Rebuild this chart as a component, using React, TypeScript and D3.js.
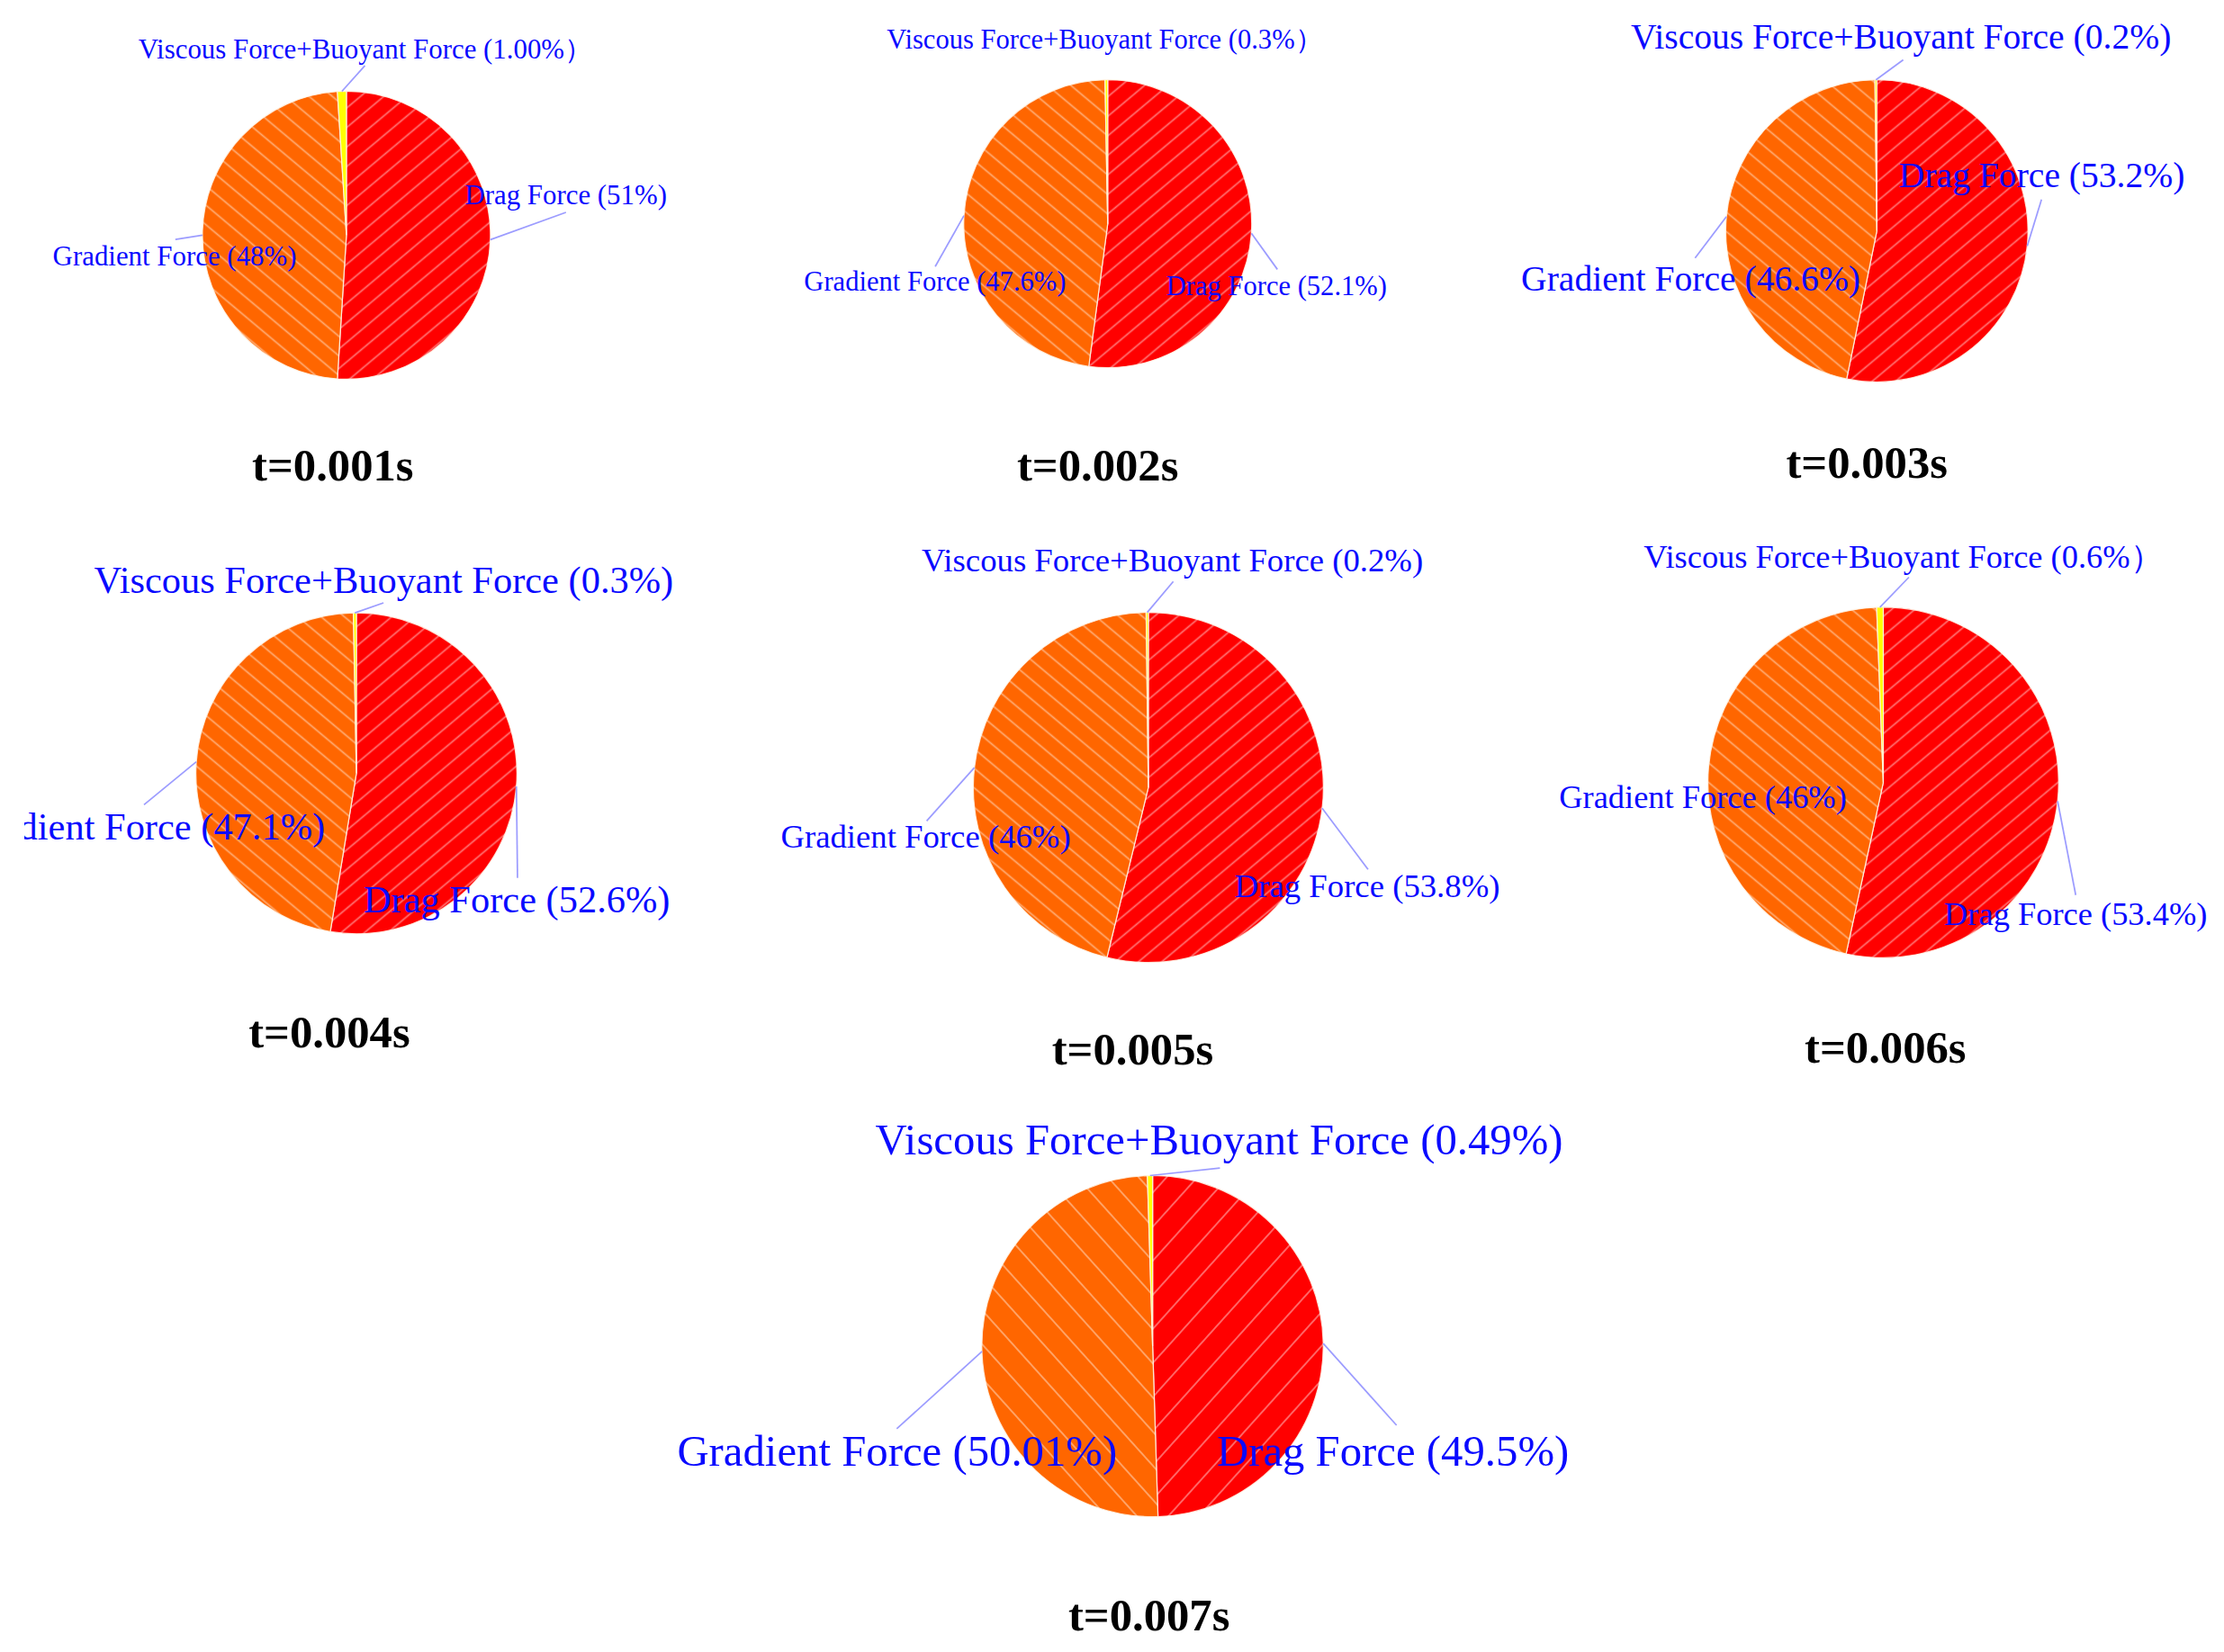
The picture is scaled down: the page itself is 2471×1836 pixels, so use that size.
import * as d3 from 'd3';
import React from 'react';

// values, one entry per time step
const times = ['t=0.001s', 't=0.002s', 't=0.003s', 't=0.004s', 't=0.005s', 't=0.006s', 't=0.007s'];
const forceNames = ['Drag Force', 'Gradient Force', 'Viscous Force+Buoyant Force'];
const dragPct = ['51', '52.1', '53.2', '52.6', '53.8', '53.4', '49.5'];
const gradientPct = ['48', '47.6', '46.6', '47.1', '46', '46', '50.01'];
const viscousPct = ['1.00', '0.3', '0.2', '0.3', '0.2', '0.6', '0.49'];
// some of the original labels close with a full-width bracket
const viscousClose = ['）', '）', ')', ')', ')', '）', ')'];

const colors = ['#ff0000', '#ff6600', '#ffff00'];

type Pt = [number, number] | null;
interface Label { x: number; y: number; anchor?: 'start' | 'end'; to: Pt }
interface Panel {
  cx: number; cy: number; r: number; font: number; hatch: number; angle: number;
  title: [number, number];
  drag: Label; grad: Label; visc: Label;
  clipLeft?: number;
}

// layout in a 1560 x 1159 view box (scaled up to the page)
const panels: Panel[] = [
  {
    cx: 243, cy: 165, r: 101, font: 19.5, hatch: 10.5, angle: 40, title: [233.5, 337],
    drag: { x: 326, y: 143, to: [397, 149] },
    grad: { x: 37, y: 186, to: [123, 168] },
    visc: { x: 97, y: 41, to: [256, 46] },
  },
  {
    cx: 777, cy: 157, r: 101, font: 19.3, hatch: 10.5, angle: 40, title: [770, 337],
    drag: { x: 818, y: 207, to: [896, 189] },
    grad: { x: 564, y: 204, to: [656, 187] },
    visc: { x: 622, y: 34, to: null },
  },
  {
    cx: 1316.5, cy: 162, r: 106, font: 25, hatch: 10.5, angle: 40, title: [1309.5, 335],
    drag: { x: 1332, y: 131, to: [1432, 140] },
    grad: { x: 1067, y: 204, to: [1189, 181] },
    visc: { x: 1144, y: 34, to: [1335, 42] },
  },
  {
    cx: 250, cy: 542.6, r: 112.6, font: 26.8, hatch: 10.5, angle: 40, title: [231, 735],
    drag: { x: 255, y: 640, to: [363, 616] },
    grad: { x: 228, y: 589, anchor: 'end', to: [101, 564.6] },
    visc: { x: 66, y: 416, to: [269, 423] },
    clipLeft: 17,
  },
  {
    cx: 805.5, cy: 552.5, r: 122.8, font: 23.2, hatch: 10.5, angle: 40, title: [794.5, 747],
    drag: { x: 866, y: 629.5, to: [959.6, 610] },
    grad: { x: 547.6, y: 595, to: [650, 576] },
    visc: { x: 646.5, y: 401, to: [823, 408] },
  },
  {
    cx: 1321, cy: 549, r: 123, font: 23, hatch: 10.5, angle: 40, title: [1322.5, 745.6],
    drag: { x: 1363.7, y: 649, to: [1456, 628] },
    grad: { x: 1093.6, y: 567, to: null },
    visc: { x: 1153, y: 398.6, to: [1339, 405] },
  },
  {
    cx: 808.5, cy: 944.5, r: 119.7, font: 30.8, hatch: 16, angle: 48, title: [806, 1144],
    drag: { x: 853.5, y: 1028.5, to: [979.6, 1000] },
    grad: { x: 475, y: 1028.5, to: [629, 1002.5] },
    visc: { x: 614, y: 810, to: [855.7, 819.5] },
  },
];

const VW = 1560;
const VH = 1159.1;
const serif = '"Liberation Serif", "Times New Roman", Times, serif';
const textBlue = '#0a0aff';
const leaderBlue = '#9c9cff';

interface Slice { name: string; value: number; text: string; color: string; key: 'drag' | 'grad' | 'visc' }

const pie = d3.pie<Slice>().sort(null).value(d => d.value);

const PieChart: React.FC<{ i: number; p: Panel }> = ({ i, p }) => {
  const slices: Slice[] = [
    { name: forceNames[0], value: +dragPct[i], text: `${forceNames[0]} (${dragPct[i]}%)`, color: colors[0], key: 'drag' },
    { name: forceNames[1], value: +gradientPct[i], text: `${forceNames[1]} (${gradientPct[i]}%)`, color: colors[1], key: 'grad' },
    { name: forceNames[2], value: +viscousPct[i], text: `${forceNames[2]} (${viscousPct[i]}%${viscousClose[i]}`, color: colors[2], key: 'visc' },
  ];
  const arcs = pie(slices);
  const arc = d3.arc<d3.PieArcDatum<Slice>>().innerRadius(0).outerRadius(p.r);
  const fills = [`url(#hatchR${i})`, `url(#hatchO${i})`, colors[2]];

  return (
    <g clipPath={p.clipLeft !== undefined ? `url(#clip${i})` : undefined}>
      <defs>
        <pattern id={`hatchR${i}`} patternUnits="userSpaceOnUse" width={p.hatch} height={p.hatch}
          patternTransform={`rotate(${-p.angle})`}>
          <rect width={p.hatch} height={p.hatch} fill={colors[0]} />
          <line x1={0} x2={p.hatch} y1={p.hatch / 2} y2={p.hatch / 2} stroke="#ffffff" strokeOpacity={0.45} strokeWidth={1.1} />
        </pattern>
        <pattern id={`hatchO${i}`} patternUnits="userSpaceOnUse" width={p.hatch} height={p.hatch}
          patternTransform={`rotate(${p.angle})`}>
          <rect width={p.hatch} height={p.hatch} fill={colors[1]} />
          <line x1={0} x2={p.hatch} y1={p.hatch / 2} y2={p.hatch / 2} stroke="#ffffff" strokeOpacity={0.45} strokeWidth={1.1} />
        </pattern>
        {p.clipLeft !== undefined && (
          <clipPath id={`clip${i}`}>
            <rect x={p.clipLeft} y={0} width={VW} height={VH} />
          </clipPath>
        )}
      </defs>
      <g transform={`translate(${p.cx},${p.cy})`}>
        {arcs.map((a, k) => (
          <path key={k} d={arc(a) || ''} fill={fills[k]} stroke="#fff4e8" strokeWidth={0.8} strokeOpacity={0.85} />
        ))}
      </g>
      {arcs.map((a, k) => {
        const lab = p[a.data.key];
        if (!lab.to) return null;
        const mid = (a.startAngle + a.endAngle) / 2;
        const sx = p.cx + p.r * Math.sin(mid);
        const sy = p.cy - p.r * Math.cos(mid);
        return <line key={`l${k}`} x1={sx} y1={sy} x2={lab.to[0]} y2={lab.to[1]} stroke={leaderBlue} strokeWidth={1.1} />;
      })}
      {arcs.map((a, k) => {
        const lab = p[a.data.key];
        return (
          <text key={`t${k}`} x={lab.x} y={lab.y} textAnchor={lab.anchor || 'start'}
            fontFamily={serif} fontSize={p.font} fill={textBlue}>
            {a.data.text}
          </text>
        );
      })}
      <text x={p.title[0]} y={p.title[1]} textAnchor="middle" fontFamily={serif} fontWeight="bold"
        fontSize={32} fill="#000">
        {times[i]}
      </text>
    </g>
  );
};

const App: React.FC = () => (
  <svg width={2471} height={1836} viewBox={`0 0 ${VW} ${VH}`}
    style={{ position: 'absolute', left: 0, top: 0, background: '#fff' }}>
    <rect width={VW} height={VH} fill="#fff" />
    {panels.map((p, i) => <PieChart key={i} i={i} p={p} />)}
  </svg>
);

export default App;
